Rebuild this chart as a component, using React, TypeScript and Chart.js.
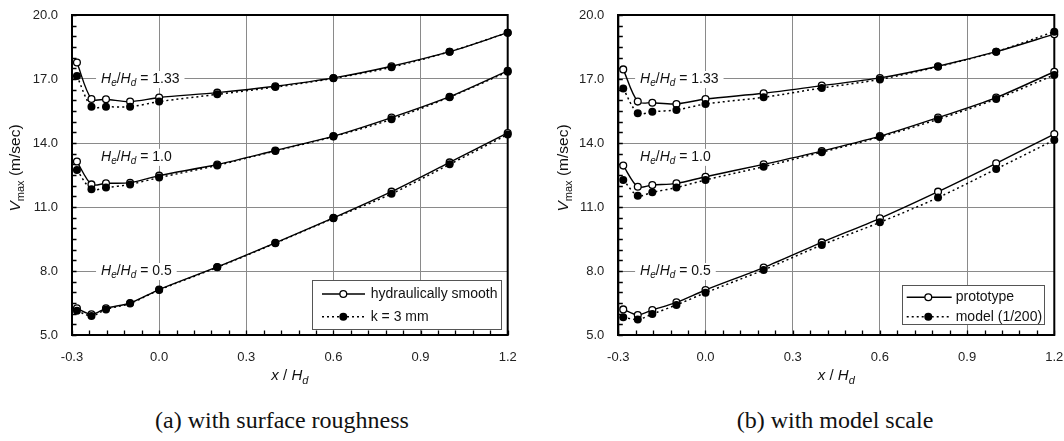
import React, { useEffect, useRef } from "react";
import { Chart, registerables } from "chart.js";

Chart.register(...registerables);

// Measuring stations along the crest, x / Hd
const xStations = [-0.283, -0.233, -0.183, -0.1, 0.0, 0.2, 0.4, 0.6, 0.8, 1.0, 1.2];

// (a) surface roughness: hydraulically smooth vs k = 3 mm, V_max in m/sec
const smooth133 = [17.77, 16.06, 16.05, 15.94, 16.13, 16.36, 16.66, 17.05, 17.6, 18.28, 19.17];
const rough133 = [17.14, 15.7, 15.7, 15.7, 15.94, 16.28, 16.62, 17.03, 17.55, 18.28, 19.17];
const smooth10 = [13.13, 12.06, 12.11, 12.14, 12.47, 12.99, 13.65, 14.32, 15.19, 16.17, 17.38];
const rough10 = [12.73, 11.83, 11.91, 12.06, 12.38, 12.95, 13.63, 14.3, 15.11, 16.15, 17.34];
const smooth05 = [6.25, 5.97, 6.25, 6.5, 7.13, 8.19, 9.32, 10.49, 11.72, 13.09, 14.47];
const rough05 = [6.14, 5.89, 6.2, 6.48, 7.11, 8.17, 9.3, 10.47, 11.62, 13.0, 14.4];

// (b) model scale: prototype vs model (1/200), V_max in m/sec
const proto133 = [17.45, 15.94, 15.89, 15.83, 16.06, 16.33, 16.69, 17.05, 17.6, 18.28, 19.1];
const model133 = [16.55, 15.39, 15.47, 15.55, 15.83, 16.14, 16.58, 16.98, 17.58, 18.28, 19.22];
const proto10 = [12.94, 11.95, 12.03, 12.11, 12.42, 13.0, 13.62, 14.32, 15.19, 16.13, 17.34];
const model10 = [12.27, 11.53, 11.69, 11.91, 12.27, 12.89, 13.57, 14.28, 15.11, 16.06, 17.19];
const proto05 = [6.2, 5.94, 6.17, 6.53, 7.11, 8.16, 9.34, 10.47, 11.72, 13.05, 14.42];
const model05 = [5.83, 5.73, 5.98, 6.41, 6.98, 8.05, 9.22, 10.28, 11.44, 12.78, 14.14];

// Head ratio labels and where they sit (y in m/sec)
const headRatioLabels = ["1.33", "1.0", "0.5"];
const headRatioLabelY = [17.0, 13.35, 8.0];

// Axis ranges and tick spacing
const xMin = -0.3, xMax = 1.2, xMajor = 0.3, xMinor = 0.06;
const yMin = 5, yMax = 20, yMajor = 3, yMinor = 0.5;

const legendA = ["hydraulically smooth", "k = 3 mm"];
const legendB = ["prototype", "model (1/200)"];

const SANS = '"Liberation Sans", Arial, Helvetica, sans-serif';

type Part = { t: string; it?: boolean; sub?: boolean };

function fontFor(p: Part, size: number) {
  const s = p.sub ? Math.round(size * 0.72) : size;
  return `${p.it ? "italic " : ""}${s}px ${SANS}`;
}
function richWidth(ctx: CanvasRenderingContext2D, parts: Part[], size: number) {
  let w = 0;
  for (const p of parts) {
    ctx.font = fontFor(p, size);
    w += ctx.measureText(p.t).width;
  }
  return w;
}
function drawRich(ctx: CanvasRenderingContext2D, parts: Part[], x: number, y: number, size: number) {
  ctx.textBaseline = "middle";
  ctx.textAlign = "left";
  let cx = x;
  for (const p of parts) {
    ctx.font = fontFor(p, size);
    ctx.fillText(p.t, cx, p.sub ? y + size * 0.3 : y);
    cx += ctx.measureText(p.t).width;
  }
}

type PanelSpec = {
  hollow: number[][];
  filled: number[][];
  legend: string[];
  labelX: number;
  axisLeft: number;
  padRight: number;
  yTitleX: number;
  legendBox: { gapR: number; gapB: number; w: number; h: number; row1: number; row2: number; s0: number; s1: number; mk: number; tx: number };
};

const panelA: PanelSpec = {
  hollow: [smooth133, smooth10, smooth05],
  filled: [rough133, rough10, rough05],
  legend: legendA,
  labelX: -0.2,
  axisLeft: 72,
  padRight: 24.3,
  yTitleX: 16,
  legendBox: { gapR: 6.7, gapB: 6, w: 188.7, h: 49, row1: 14, row2: 36.7, s0: 9.7, s1: 52.7, mk: 31, tx: 58.4 },
};

const panelB: PanelSpec = {
  hollow: [proto133, proto10, proto05],
  filled: [model133, model10, model05],
  legend: legendB,
  labelX: -0.225,
  axisLeft: 86.3,
  padRight: 9.7,
  yTitleX: 32,
  legendBox: { gapR: 11, gapB: 10.7, w: 141.6, h: 39.3, row1: 12.3, row2: 31.7, s0: 5, s1: 50, mk: 26.6, tx: 54 },
};

function drawSample(ctx: CanvasRenderingContext2D, x0: number, x1: number, mx: number, y: number, filled: boolean) {
  ctx.save();
  ctx.strokeStyle = "#000";
  ctx.lineWidth = filled ? 1.5 : 1.4;
  ctx.setLineDash(filled ? [2, 3] : []);
  ctx.beginPath();
  ctx.moveTo(x0, y);
  ctx.lineTo(x1, y);
  ctx.stroke();
  ctx.setLineDash([]);
  ctx.beginPath();
  ctx.arc(mx, y, filled ? 4 : 3.4, 0, Math.PI * 2);
  ctx.fillStyle = filled ? "#000" : "#fff";
  ctx.fill();
  if (!filled) {
    ctx.lineWidth = 1.3;
    ctx.stroke();
  }
  ctx.restore();
}

function buildConfig(spec: PanelSpec): any {
  const datasets: any[] = [];
  for (let i = 0; i < 3; i++) {
    datasets.push({
      label: `${spec.legend[0]} ${headRatioLabels[i]}`,
      data: xStations.map((x, j) => ({ x, y: spec.hollow[i][j] })),
      borderColor: "#000",
      borderWidth: 1.4,
      pointRadius: 3.4,
      pointBackgroundColor: "#fff",
      pointBorderColor: "#000",
      pointBorderWidth: 1.3,
      tension: 0.3,
      order: 1,
      clip: false,
    });
    datasets.push({
      label: `${spec.legend[1]} ${headRatioLabels[i]}`,
      data: xStations.map((x, j) => ({ x, y: spec.filled[i][j] })),
      borderColor: "#000",
      borderWidth: 1.5,
      borderDash: [2, 3],
      pointRadius: 4,
      pointBackgroundColor: "#000",
      pointBorderColor: "#000",
      pointBorderWidth: 0,
      tension: 0.3,
      order: 0,
      clip: false,
    });
  }

  const decor = {
    id: "panelDecor",
    beforeDatasetsDraw(chart: any) {
      const { ctx, chartArea: ca } = chart;
      const xs = chart.scales.x, ys = chart.scales.y;
      ctx.save();
      // frame
      ctx.strokeStyle = "#000";
      ctx.lineWidth = 2;
      ctx.strokeRect(ca.left, ca.top, ca.right - ca.left, ca.bottom - ca.top);
      // inside minor ticks
      ctx.lineWidth = 1.3;
      ctx.beginPath();
      const nx = Math.round((xMax - xMin) / xMinor);
      for (let k = 0; k <= nx; k++) {
        const px = Math.round(xs.getPixelForValue(xMin + k * xMinor)) + 0.5;
        ctx.moveTo(px, ca.bottom);
        ctx.lineTo(px, ca.bottom - 4.5);
      }
      const ny = Math.round((yMax - yMin) / yMinor);
      for (let k = 0; k <= ny; k++) {
        const py = Math.round(ys.getPixelForValue(yMin + k * yMinor)) + 0.5;
        ctx.moveTo(ca.left, py);
        ctx.lineTo(ca.left + 4.5, py);
      }
      ctx.stroke();
      // head ratio labels
      const size = 14;
      for (let i = 0; i < 3; i++) {
        const parts: Part[] = [
          { t: "H", it: true },
          { t: "e", it: true, sub: true },
          { t: "/" },
          { t: "H", it: true },
          { t: "d", it: true, sub: true },
          { t: " = " + headRatioLabels[i] },
        ];
        const w = richWidth(ctx, parts, size);
        const lx = xs.getPixelForValue(spec.labelX);
        const ly = ys.getPixelForValue(headRatioLabelY[i]);
        ctx.fillStyle = "#fff";
        ctx.fillRect(lx - 5, ly - 8, w + 10, 17);
        ctx.fillStyle = "#111";
        drawRich(ctx, parts, lx, ly, size);
      }
      ctx.restore();
    },
    afterDatasetsDraw(chart: any) {
      const { ctx, chartArea: ca } = chart;
      const lb = spec.legendBox;
      ctx.save();
      const bx = ca.right - lb.gapR - lb.w;
      const by = ca.bottom - lb.gapB - lb.h;
      ctx.fillStyle = "#fff";
      ctx.fillRect(bx, by, lb.w, lb.h);
      ctx.strokeStyle = "#555";
      ctx.lineWidth = 1;
      ctx.strokeRect(Math.round(bx) + 0.5, Math.round(by) + 0.5, Math.round(lb.w), Math.round(lb.h));
      drawSample(ctx, bx + lb.s0, bx + lb.s1, bx + lb.mk, by + lb.row1, false);
      drawSample(ctx, bx + lb.s0, bx + lb.s1, bx + lb.mk, by + lb.row2, true);
      ctx.fillStyle = "#111";
      ctx.font = `14px ${SANS}`;
      ctx.textAlign = "left";
      ctx.textBaseline = "middle";
      ctx.fillText(spec.legend[0], bx + lb.tx, by + lb.row1);
      ctx.fillText(spec.legend[1], bx + lb.tx, by + lb.row2);
      ctx.restore();
    },
    afterDraw(chart: any) {
      const { ctx, chartArea: ca } = chart;
      ctx.save();
      ctx.fillStyle = "#111";
      // x-axis title
      const xt: Part[] = [{ t: "x", it: true }, { t: " / " }, { t: "H", it: true }, { t: "d", it: true, sub: true }];
      const xw = richWidth(ctx, xt, 15);
      drawRich(ctx, xt, (ca.left + ca.right) / 2 - xw / 2, 376, 15);
      // y-axis title
      const yt: Part[] = [{ t: "V", it: true }, { t: "max", sub: true }, { t: " (m/sec)" }];
      const yw = richWidth(ctx, yt, 15.5);
      ctx.translate(spec.yTitleX, (ca.top + ca.bottom) / 2 - 7);
      ctx.rotate(-Math.PI / 2);
      drawRich(ctx, yt, -yw / 2, 0, 15.5);
      ctx.restore();
    },
  };

  return {
    type: "line",
    data: { datasets },
    options: {
      animation: false,
      responsive: false,
      devicePixelRatio: 1,
      layout: { padding: { top: 15, right: spec.padRight, bottom: 0, left: 0 } },
      plugins: { legend: { display: false }, tooltip: { enabled: false } },
      scales: {
        x: {
          type: "linear",
          min: xMin,
          max: xMax,
          ticks: {
            stepSize: xMajor,
            callback: (v: any) => Number(v).toFixed(1),
            font: { size: 13, family: SANS },
            color: "#222",
            padding: 15,
            maxRotation: 0,
          },
          grid: { color: "#8a8a8a", lineWidth: 1, drawTicks: false },
          border: { display: true, color: "#000", width: 2 },
          afterFit: (s: any) => {
            s.height = 65;
            s.paddingLeft = 0;
            s.paddingRight = 0;
          },
        },
        y: {
          type: "linear",
          min: yMin,
          max: yMax,
          ticks: {
            stepSize: yMajor,
            callback: (v: any) => Number(v).toFixed(1),
            font: { size: 13, family: SANS },
            color: "#222",
            padding: 14,
          },
          grid: { color: "#8a8a8a", lineWidth: 1, drawTicks: false },
          border: { display: true, color: "#000", width: 2 },
          afterFit: (s: any) => {
            s.width = spec.axisLeft;
            s.paddingTop = 0;
            s.paddingBottom = 0;
          },
        },
      },
    },
    plugins: [decor],
  };
}

function Panel({ spec, left }: { spec: PanelSpec; left: number }) {
  const ref = useRef<HTMLCanvasElement>(null);
  useEffect(() => {
    const chart = new Chart(ref.current as HTMLCanvasElement, buildConfig(spec));
    return () => chart.destroy();
  }, [spec]);
  return (
    <canvas
      ref={ref}
      width={532}
      height={400}
      style={{ position: "absolute", left, top: 0, width: 532, height: 400 }}
    />
  );
}

const captionStyle = (cx: number): React.CSSProperties => ({
  position: "absolute",
  left: cx - 200,
  width: 400,
  top: 405,
  lineHeight: "30px",
  textAlign: "center",
  fontFamily: '"Liberation Serif", "Times New Roman", serif',
  fontSize: 24,
  color: "#111",
});

export default function App() {
  return (
    <div style={{ position: "absolute", left: 0, top: 0, width: 1064, height: 441, background: "#fff", overflow: "hidden" }}>
      <Panel spec={panelA} left={0} />
      <Panel spec={panelB} left={532} />
      <div style={captionStyle(282)}>(a) with surface roughness</div>
      <div style={captionStyle(835)}>(b) with model scale</div>
    </div>
  );
}
